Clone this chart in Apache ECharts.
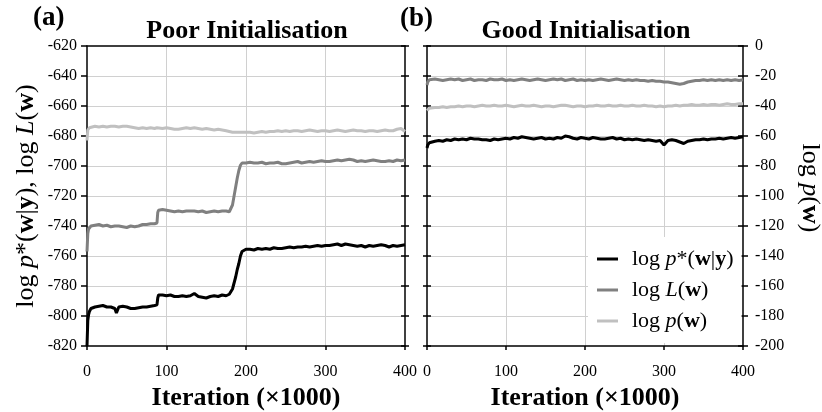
<!DOCTYPE html>
<html><head><meta charset="utf-8">
<script src="https://cdn.jsdelivr.net/npm/echarts@6/dist/echarts.min.js"></script>
<style>html,body{margin:0;padding:0;background:#fff}#c{width:822px;height:412px}</style>
</head><body><div id="c"></div>
<script>
// ---------- data ----------
const iterA = [0,1,2,3,5,10,15,20,25,30,35,37,40,45,50,55,60,65,70,75,80,85,88,89,90,95,100,105,110,115,120,125,130,135,140,145,150,155,160,165,170,175,179,181,183,185,187,189,191,193,195,200,205,210,215,220,225,230,235,240,245,250,255,260,265,270,275,280,285,290,295,300,305,310,315,320,325,330,335,340,345,350,355,360,365,370,375,380,385,390,395,400];
const pStarA = [-820,-803,-799,-797,-795,-794,-793.5,-793,-794,-794,-795,-798,-794,-793.5,-794,-795,-795,-794.5,-794,-794,-793.5,-793,
  -792.5,-788,-786,
  -786,-786.5,-786,-787,-787,-786.5,-787,-786.5,-785,-787,-787.5,-788,-787,-786.5,-787,-786,-786.5,
  -785.5,-785,-782,-778,-774,-769,-765,-760,-757,
  -755.5,-755.5,-756,-755,-755.5,-755,-755.5,-754.5,-755,-755,-754.5,-754,-754.5,-754,-754,-753.5,-754,-753.5,-753,-753.5,-753,-753,-752.5,-752,-753,-752,-752.5,-753,-753.5,-753,-754,-753,-753.5,-753,-752.5,-753,-754,-753,-753.5,-753,-752.5];
const logLA = [-757,-745,-742,-741,-740,-739.5,-739,-740,-739.5,-740.5,-740,-741,-740,-740.5,-741,-740,-740.5,-740,-739,-739,-738.5,-738.5,
  -738,-731,-729.5,
  -729,-729.5,-730,-730.5,-730,-730.5,-730,-730,-730,-730.5,-730,-731,-730.5,-730,-730.5,-730,-730,
  -730.5,-730,-726,-720,-714,-708,-703,-699.5,-698,
  -698,-697.5,-698,-698,-697.5,-698.5,-698,-698,-697.5,-698.5,-698.5,-698,-697.5,-697,-698,-697.5,-697,-697.5,-697,-696.5,-697,-697,-696.5,-696,-696.5,-696,-695.5,-696,-697,-696.5,-697,-696.5,-696,-696.5,-697,-697,-696.5,-697,-696,-696.5,-696];
const logPA = [-683,-676,-675,-674.5,-674,-673.5,-674,-673.5,-674,-673.5,-673.5,-674,-674,-673.5,-673.5,-674,-674.5,-675,-674.5,-675,-674.5,-675,
  -674.5,-675,-675.5,
  -675,-674.5,-675,-675.5,-675.5,-675,-674.5,-675,-674.5,-675,-675.5,-675,-675.5,-676,-675.5,-676,-676.5,
  -677,-677.5,-677.5,-678,-677.5,-678,-677.5,-678,-677.5,
  -677.5,-677.5,-678,-677.5,-677,-677.5,-677,-677,-676.5,-677,-676.5,-677,-676.5,-676.5,-677,-676.5,-676,-676.5,-677,-676.5,-676.5,-677,-676.5,-676,-676.5,-677,-676.5,-676,-676.5,-676.5,-677,-676.5,-676.5,-677,-676.5,-676,-676.5,-676.5,-675.5,-675,-677];

const iterB = [0,1,2,3,5,10,15,20,25,30,35,40,45,50,55,60,65,70,75,80,85,90,95,100,105,110,115,120,125,130,135,140,145,150,155,160,165,170,175,180,185,190,195,200,205,210,215,220,225,230,235,240,245,250,255,260,265,270,275,280,285,290,295,300,305,310,315,320,325,330,335,340,345,350,355,360,365,370,375,380,385,390,395,400];
const pStarB = [-68,-66,-65,-64.5,
  -64,-63.5,-63,-63.5,-62.5,-63,-62,-62.5,-62,-62.5,
  -61.5,-62,-62,-62.5,-62.5,-63,-62,-62.5,-62,-61.5,
  -62,-61,-61.5,-60.5,-61,-61.5,-62,-61.5,-61,-62,
  -61.5,-62,-61,-61.5,-60,-60.5,-61.5,-62,-61,-61.5,
  -62,-61,-61.5,-62,-62,-61.5,-61,-62,-61.5,-62.5,
  -62,-62.5,-62,-62.5,-63,-62.5,-63,-63.5,-63,-66,
  -63,-62.5,-63,-64,-65,-63.5,-63,-62.5,-62.5,-62,
  -62.5,-62,-62,-61.5,-62,-61.5,-61,-61.5,-61,-60.5];
const logLB = [-26,-24,-23,-22.5,
  -22.5,-22,-22.5,-23,-22.5,-22,-22.5,-22,-23,-22.5,
  -22,-23,-22.5,-22.5,-23,-22,-22.5,-22.5,-22,-23,
  -22.5,-23,-22.5,-22,-22.5,-23,-22.5,-22,-22.5,-23,
  -22.5,-22,-22.5,-22,-23,-22.5,-22,-23,-22.5,-23,
  -22.5,-23,-22.5,-22,-22.5,-23,-22.5,-22,-22.5,-23,
  -22.5,-23,-22.5,-23,-23,-23.5,-23,-23.5,-23.5,-24,
  -24,-24.5,-25,-25.5,-25,-24,-23.5,-23,-23,-22.5,
  -23,-22.5,-23,-22.5,-23,-22.5,-23,-22.5,-23,-22.5];
const logPB = [-43,-42.5,-42,-41.5,
  -41.5,-41,-41,-40.5,-41,-40.5,-40.5,-40,-40.5,-40,
  -40,-40.5,-40,-39.5,-40,-40,-39.5,-40,-40,-39.5,
  -40,-40.5,-40,-39.5,-40,-40,-39.5,-40,-40.5,-40,
  -40,-40.5,-40,-39.5,-39.5,-40,-40.5,-40,-40,-40.5,
  -40,-40,-39.5,-40,-40,-39.5,-40,-40,-39.5,-40,
  -40,-39.5,-40,-40,-39.5,-40,-40,-40.5,-40,-40.5,
  -40,-40,-39.5,-40,-39.5,-39.5,-39,-39.5,-39.5,-39,
  -39.5,-39,-39,-39.5,-39,-38.5,-39,-39,-38.5,-38.5];

const xTicks = {min: 0, max: 400, step: 100};
const yRangeA = {min: -820, max: -620, step: 20};
const yRangeB = {min: -200, max: 0, step: 20};
const seriesNames = ['pstar', 'L', 'p'];
const legendLabels = {pstar: 'log {i|p}*({b|w}|{b|y})', L: 'log {i|L}({b|w})', p: 'log {i|p}({b|w})'};
const colors = {pstar: '#000000', L: '#808080', p: '#c0c0c0'};

// ---------- chart ----------
const FONT = '"Liberation Serif", "Times New Roman", serif';
function rich(size) {
  return {
    i: {fontStyle: 'italic', fontFamily: FONT, fontSize: size, color: '#000'},
    b: {fontWeight: 'bold', fontFamily: FONT, fontSize: size, color: '#000'}
  };
}
const pairs = (xs, ys) => xs.map((x, i) => [x, ys[i]]);
const AX = {color: '#000', width: 1.5};
const GRIDLINE = {show: true, showMinLine: false, showMaxLine: false, lineStyle: {color: '#d0d0d0', width: 1}};

function xAxes(gi) {
  return [
    {gridIndex: gi, type: 'value', min: xTicks.min, max: xTicks.max, interval: xTicks.step, position: 'bottom',
     axisLine: {show: true, onZero: false, lineStyle: AX},
     axisTick: {show: true, inside: false, length: 4, lineStyle: AX},
     axisLabel: {fontFamily: FONT, fontSize: 16, color: '#000', margin: 18},
     splitLine: GRIDLINE,
     name: 'Iteration (×1000)', nameLocation: 'middle', nameGap: 38,
     nameTextStyle: {fontFamily: FONT, fontSize: 26, fontWeight: 'bold', color: '#000'}},
    {gridIndex: gi, type: 'value', min: xTicks.min, max: xTicks.max, interval: xTicks.step, position: 'top',
     axisLine: {show: true, onZero: false, lineStyle: AX}, axisTick: {show: false}, axisLabel: {show: false}, splitLine: {show: false}}
  ];
}
function plainY(gi, r, pos, inside, len, line) {
  return {gridIndex: gi, type: 'value', min: r.min, max: r.max, interval: r.step, position: pos,
    axisLine: {show: line, onZero: false, lineStyle: AX},
    axisTick: {show: true, inside: inside, length: len, lineStyle: AX},
    axisLabel: {show: false}, splitLine: {show: false}};
}

const option = {
  animation: false,
  backgroundColor: '#fff',
  grid: [
    {left: 87, top: 46, width: 318, height: 300, containLabel: false, outerBoundsMode: 'none'},
    {left: 427, top: 46, width: 316, height: 300, containLabel: false, outerBoundsMode: 'none'}
  ],
  xAxis: [...xAxes(0), ...xAxes(1)],
  yAxis: [
    {gridIndex: 0, type: 'value', min: yRangeA.min, max: yRangeA.max, interval: yRangeA.step, position: 'left',
     axisLine: {show: true, onZero: false, lineStyle: AX},
     axisTick: {show: true, inside: false, length: 6, lineStyle: AX},
     axisLabel: {fontFamily: FONT, fontSize: 16, color: '#000', margin: 10},
     splitLine: GRIDLINE,
     name: 'log {i|p}*({b|w}|{b|y}), log {i|L}({b|w})', nameLocation: 'middle', nameRotate: 90, nameGap: 48,
     nameTextStyle: {fontFamily: FONT, fontSize: 26, color: '#000', rich: rich(26)}},
    plainY(0, yRangeA, 'right', true, 4, true),
    plainY(0, yRangeA, 'right', false, 4, false),
    {gridIndex: 1, type: 'value', min: yRangeB.min, max: yRangeB.max, interval: yRangeB.step, position: 'right',
     axisLine: {show: true, onZero: false, lineStyle: AX},
     axisTick: {show: true, inside: false, length: 5, lineStyle: AX},
     axisLabel: {fontFamily: FONT, fontSize: 16, color: '#000', margin: 12},
     splitLine: GRIDLINE,
     name: 'log {i|p}({b|w})', nameLocation: 'middle', nameRotate: -90, nameGap: 54,
     nameTextStyle: {fontFamily: FONT, fontSize: 26, color: '#000', rich: rich(26), padding: [0, 16, 0, 0]}},
    plainY(1, yRangeB, 'right', true, 5, false),
    plainY(1, yRangeB, 'left', true, 4, true),
    plainY(1, yRangeB, 'left', false, 4, false)
  ],
  legend: {
    orient: 'vertical', left: 588, top: 237, padding: [10, 8, 10, 9], itemGap: 7,
    itemWidth: 21, itemHeight: 3, icon: 'rect', backgroundColor: '#fff',
    data: seriesNames,
    formatter: n => legendLabels[n],
    textStyle: {fontFamily: FONT, fontSize: 22, color: '#000', lineHeight: 24, padding: [0, 0, 0, 9], rich: rich(22)}
  },
  graphic: [
    {type: 'text', x: 33, y: 18, style: {text: '(a)', fontFamily: FONT, fontSize: 27, fontWeight: 'bold', fill: '#000', verticalAlign: 'middle'}},
    {type: 'text', x: 400, y: 19, style: {text: '(b)', fontFamily: FONT, fontSize: 27, fontWeight: 'bold', fill: '#000', verticalAlign: 'middle'}},
    {type: 'text', x: 247, y: 31, style: {text: 'Poor Initialisation', fontFamily: FONT, fontSize: 26, fontWeight: 'bold', fill: '#000', align: 'center', verticalAlign: 'middle'}},
    {type: 'text', x: 586, y: 31, style: {text: 'Good Initialisation', fontFamily: FONT, fontSize: 26, fontWeight: 'bold', fill: '#000', align: 'center', verticalAlign: 'middle'}}
  ],
  series: [
    {name: 'p', data: pairs(iterA, logPA), xAxisIndex: 0, yAxisIndex: 0},
    {name: 'L', data: pairs(iterA, logLA), xAxisIndex: 0, yAxisIndex: 0},
    {name: 'pstar', data: pairs(iterA, pStarA), xAxisIndex: 0, yAxisIndex: 0},
    {name: 'p', data: pairs(iterB, logPB), xAxisIndex: 2, yAxisIndex: 3},
    {name: 'L', data: pairs(iterB, logLB), xAxisIndex: 2, yAxisIndex: 3},
    {name: 'pstar', data: pairs(iterB, pStarB), xAxisIndex: 2, yAxisIndex: 3}
  ].map(s => Object.assign(s, {type: 'line', showSymbol: false, symbol: 'none', color: colors[s.name],
      lineStyle: {width: 3, color: colors[s.name]}, emphasis: {disabled: true}}))
};
const chart = echarts.init(document.getElementById('c'), null, {renderer: 'canvas'});
chart.setOption(option);
</script></body></html>
